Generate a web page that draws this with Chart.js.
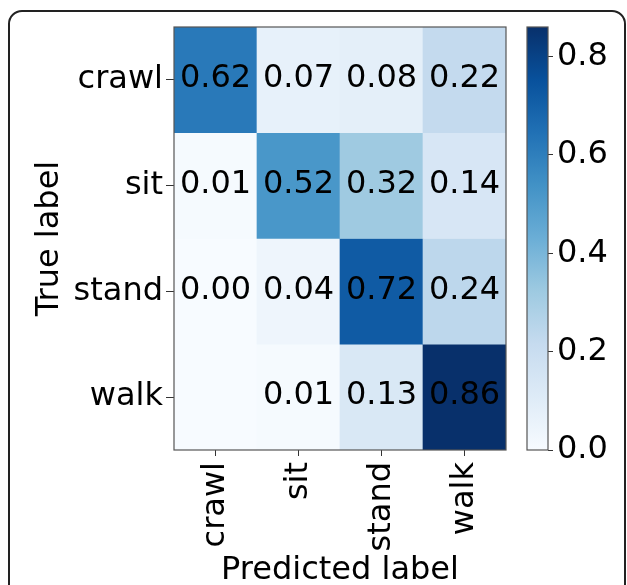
<!DOCTYPE html>
<html>
<head>
<meta charset="utf-8">
<script src="https://cdn.jsdelivr.net/npm/chart.js@4"></script>
<style>
html,body{margin:0;padding:0;background:#fff;}
#wrap{position:relative;width:627px;height:585px;overflow:hidden;}
#frame{position:absolute;left:8px;top:10px;width:614px;height:600px;border:2px solid #222;border-radius:14px;}
#heat{position:absolute;left:0;top:0;}
#cbar{position:absolute;left:510px;top:0;}
</style>
</head>
<body>
<div id="wrap">
  <div id="frame"></div>
  <canvas id="heat" width="510" height="585"></canvas>
  <canvas id="cbar" width="117" height="585"></canvas>
</div>
<script>
const predLabels=['crawl','sit','stand','walk'];
const trueLabels=['crawl','sit','stand','walk'];
// rows = true label, columns = predicted label (null = empty cell)
const rowCrawl=[0.62,0.07,0.08,0.22];
const rowSit=[0.01,0.52,0.32,0.14];
const rowStand=[0.00,0.04,0.72,0.24];
const rowWalk=[null,0.01,0.13,0.86];
const colorbarTicks=[0.0,0.2,0.4,0.6,0.8];
const vmax=0.86;

const FONT='DejaVu Sans';
const blues=[[247,251,255],[222,235,247],[198,219,239],[158,202,225],[107,174,214],[66,146,198],[33,113,181],[8,81,156],[8,48,107]];
function bluesColor(t){
  t=Math.max(0,Math.min(1,t));
  const p=t*(blues.length-1);const i=Math.min(Math.floor(p),blues.length-2);const f=p-i;
  const a=blues[i],b=blues[i+1];
  return `rgb(${a.map((v,k)=>Math.round(v+(b[k]-v)*f)).join(',')})`;
}

const rows=[rowCrawl,rowSit,rowStand,rowWalk];

const boxPlugin={id:'box',afterDraw(chart){
  const {ctx,chartArea:a}=chart;
  ctx.save();ctx.strokeStyle='#555';ctx.lineWidth=1.2;
  ctx.strokeRect(a.left,a.top,a.right-a.left,a.bottom-a.top);ctx.restore();
}};

const cellText={id:'cellText',afterDatasetsDraw(chart){
  const ctx=chart.ctx;
  ctx.save();ctx.font=`32px "${FONT}"`;ctx.fillStyle='#000';ctx.textAlign='center';ctx.textBaseline='middle';
  chart.data.datasets.forEach((ds,r)=>{
    chart.getDatasetMeta(r).data.forEach((el,c)=>{
      const v=rows[r][c];
      if(v===null) return;
      ctx.fillText(v.toFixed(2),el.x,(el.y+el.base)/2-1);
    });
  });
  ctx.restore();
}};

new Chart(document.getElementById('heat'),{
  type:'bar',
  data:{
    labels:predLabels,
    datasets:rows.map((row,r)=>({
      label:trueLabels[r],
      data:row.map(()=>[r,r+1]),
      backgroundColor:row.map(v=>bluesColor((v||0)/vmax)),
      borderWidth:0,
      barPercentage:1,categoryPercentage:1,grouped:false
    }))
  },
  options:{
    responsive:false,animation:false,
    layout:{padding:{top:27,right:4,left:0,bottom:0}},
    plugins:{legend:{display:false},tooltip:{enabled:false}},
    scales:{
      x:{
        grid:{drawOnChartArea:false,offset:false,tickLength:6,color:'#333'},
        border:{display:false},
        ticks:{color:'#000',font:{family:FONT,size:32},minRotation:90,maxRotation:90,padding:6},
        title:{display:true,text:'Predicted label',color:'#000',font:{family:FONT,size:32,lineHeight:1},padding:{top:0,bottom:-2}},
        afterFit(s){s.height=135;}
      },
      y:{
        type:'linear',min:0,max:4,reverse:true,
        afterBuildTicks(s){s.ticks=[0.5,1.5,2.5,3.5].map(v=>({value:v}));},
        grid:{drawOnChartArea:false,tickLength:8,color:'#333'},
        border:{display:false},
        ticks:{color:'#000',font:{family:FONT,size:32},padding:3,callback:v=>trueLabels[Math.floor(v)]},
        title:{display:true,text:'True label',color:'#000',font:{family:FONT,size:32,lineHeight:1},padding:{top:34,bottom:0}},
        afterFit(s){s.width=174;}
      }
    }
  },
  plugins:[cellText,boxPlugin]
});

new Chart(document.getElementById('cbar'),{
  type:'bar',
  data:{
    labels:[''],
    datasets:[{
      data:[vmax],
      borderWidth:0,barPercentage:1,categoryPercentage:1,
      backgroundColor(ctx){
        const a=ctx.chart.chartArea;
        if(!a) return blues[0];
        const g=ctx.chart.ctx.createLinearGradient(0,a.bottom,0,a.top);
        blues.forEach((c,i)=>g.addColorStop(i/(blues.length-1),`rgb(${c.join(',')})`));
        return g;
      }
    }]
  },
  options:{
    responsive:false,animation:false,
    layout:{padding:{top:27,right:0,left:17,bottom:135}},
    plugins:{legend:{display:false},tooltip:{enabled:false}},
    scales:{
      x:{display:false},
      y:{
        position:'right',min:0,max:vmax,
        afterBuildTicks(s){s.ticks=colorbarTicks.map(v=>({value:v}));},
        grid:{drawOnChartArea:false,tickLength:5,color:'#333'},
        border:{display:false},
        ticks:{color:'#000',font:{family:FONT,size:32},padding:4,callback:v=>v.toFixed(1)},
        afterFit(s){s.width=79;}
      }
    }
  },
  plugins:[boxPlugin]
});
</script>
</body>
</html>
